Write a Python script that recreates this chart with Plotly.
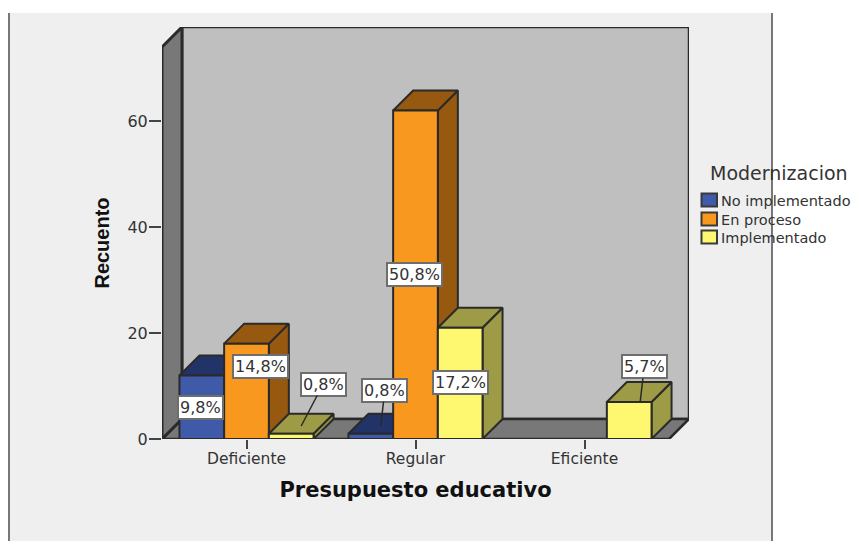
import plotly.graph_objects as go

categories = ["Deficiente", "Regular", "Eficiente"]
series_names = ["No implementado", "En proceso", "Implementado"]
no_implementado = [12, 1, None]
en_proceso = [18, 62, None]
implementado = [1, 21, 7]
y_ticks = [0, 20, 40, 60]

# (series index, category index, text, x shift, y shift, arrow ax, arrow ay)
labels = [
    (0, 0, "9,8%", -1, -31.6, None, None),
    (1, 0, "14,8%", 13.5, -23.3, None, None),
    (2, 0, "0,8%", 10, 7.7, 22, -42),
    (0, 1, "0,8%", 10, 7.7, 4, -36),
    (1, 1, "50,8%", -1.5, -164.4, None, None),
    (2, 1, "17,2%", 0, -55, None, None),
    (2, 2, "5,7%", 11, 0, 4, -35),
]

W, H = 852, 541
DEPTH_PX = 20
L, R, T, B = 162, 669 + DEPTH_PX, 47 - DEPTH_PX, 439  # extended plot box in pixels
X_RANGE = (-0.5, 2.5)
Y_RANGE = (0, 74)
DX = DEPTH_PX * (X_RANGE[1] - X_RANGE[0]) / (R - L - DEPTH_PX)
DY = DEPTH_PX * (Y_RANGE[1] - Y_RANGE[0]) / (B - T - DEPTH_PX)
BAR_W = 0.2645

front = ["#3f5aa9", "#f9981f", "#fdf870"]
top_c = ["#223467", "#96590f", "#9d9b45"]
side_c = ["#223467", "#96590f", "#9d9b45"]
EDGE = "#2a2a2a"
TEXT = "#333333"
series = [no_implementado, en_proceso, implementado]

fig = go.Figure()


def poly(xs, ys, fill, lw=2.5, line=EDGE):
    fig.add_trace(go.Scatter(
        x=list(xs) + [xs[0]], y=list(ys) + [ys[0]], mode="lines", fill="toself",
        fillcolor=fill, line=dict(color=line, width=lw), hoverinfo="skip",
        showlegend=False, xaxis="x", yaxis="y"))


x0, x1 = X_RANGE
y0, y1 = Y_RANGE
poly([x0 + DX, x1 + DX, x1 + DX, x0 + DX], [y0 + DY, y0 + DY, y1 + DY, y1 + DY], "#bfbfbf")
poly([x0, x1, x1 + DX, x0 + DX], [y0, y0, y0 + DY, y0 + DY], "#787878")
poly([x0, x0 + DX, x0 + DX, x0], [y0, y0 + DY, y1 + DY, y1], "#787878", lw=3)

for si, vals in enumerate(series):
    for ci, v in enumerate(vals):
        if v is None:
            continue
        left = ci + (si - 1.5) * BAR_W
        right = left + BAR_W
        poly([right, right + DX, right + DX, right], [0, DY, v + DY, v], side_c[si], lw=2)
        poly([left, right, right + DX, left + DX], [v, v, v + DY, v + DY], top_c[si], lw=2)

for si, vals in enumerate(series):
    fig.add_trace(go.Bar(
        x=[0, 1, 2], y=vals, name=series_names[si], xaxis="x2", yaxis="y2", showlegend=False,
        marker=dict(color=front[si], line=dict(color=EDGE, width=2)), hoverinfo="skip"))

for si, ci, text, xs, ys, ax, ay in labels:
    arrow = ax is not None
    fig.add_annotation(
        x=ci + (si - 1) * BAR_W, y=series[si][ci], xref="x2", yref="y2", text=text,
        xshift=xs, yshift=ys, showarrow=arrow, arrowhead=0, arrowwidth=1.5,
        arrowcolor=EDGE, ax=ax if arrow else None, ay=ay if arrow else None,
        axref="pixel", ayref="pixel",
        bgcolor="white", bordercolor="#6e6e6e", borderwidth=2, borderpad=1,
        font=dict(family="DejaVu Sans", size=16, color=TEXT))


def px(x):
    return (x - L) / (R - L)


def py(y):
    return (B - y) / (B - T)


# legend, placed to match the reference's tight swatch-to-text spacing
fig.add_annotation(x=px(707.5), y=py(173), xref="paper", yref="paper", xanchor="left", yanchor="middle",
                   text="Modernizacion", showarrow=False,
                   font=dict(family="DejaVu Sans", size=19, color=TEXT))
legend_y = [200, 219, 237]
shapes = [
    dict(type="rect", xref="paper", yref="paper", x0=px(8), x1=px(772), y0=py(13), y1=py(H + 5),
         fillcolor="#efefef", line=dict(width=0), layer="below"),
    dict(type="line", xref="paper", yref="paper", x0=px(9), x1=px(9), y0=py(13), y1=py(H + 5),
         line=dict(color="#777777", width=2), layer="below"),
    dict(type="line", xref="paper", yref="paper", x0=px(772), x1=px(772), y0=py(13), y1=py(H + 5),
         line=dict(color="#777777", width=2), layer="above"),
]
for name, color, ly in zip(series_names, front, legend_y):
    shapes.append(dict(type="rect", xref="paper", yref="paper", x0=px(701.5), x1=px(717), y0=py(ly - 6.5),
                       y1=py(ly + 6.5), fillcolor=color, line=dict(color="#3a3a3a", width=2), layer="above"))
    fig.add_annotation(x=px(721), y=py(ly + 1), xref="paper", yref="paper", xanchor="left", yanchor="middle",
                       xshift=-1, text=name, showarrow=False, borderpad=0,
                       font=dict(family="DejaVu Sans", size=14.5, color=TEXT))

hidden = dict(showgrid=False, zeroline=False, showline=False, showticklabels=False, ticks="")
fig.update_layout(
    width=W, height=H, paper_bgcolor="white", plot_bgcolor="rgba(0,0,0,0)",
    margin=dict(l=L, r=W - R, t=T, b=H - B, pad=0, autoexpand=False),
    barmode="group", bargap=1 - 3 * BAR_W, bargroupgap=0, showlegend=False,
    xaxis=dict(range=(x0, x1 + DX), domain=[0, 1], anchor="y", **hidden),
    yaxis=dict(range=(y0, y1 + DY), domain=[0, 1], anchor="x", **hidden),
    xaxis2=dict(
        range=X_RANGE, domain=[0, 1 - DEPTH_PX / (R - L)], anchor="y2",
        tickvals=[0, 1, 2], ticktext=categories, ticks="outside", ticklen=9, ticklabelstandoff=-4,
        tickwidth=2, tickcolor="#444444", showgrid=False, zeroline=False, showline=False,
        tickfont=dict(family="DejaVu Sans", size=15.5, color=TEXT), automargin=False,
        title=dict(text="Presupuesto educativo", standoff=15,
                   font=dict(family="DejaVu Sans", size=21, weight="bold", color="#111111"))),
    yaxis2=dict(
        range=Y_RANGE, domain=[0, 1 - DEPTH_PX / (B - T)], anchor="x2",
        tickvals=y_ticks, ticks="outside", ticklen=12, ticklabelstandoff=-2, tickwidth=2,
        tickcolor="#444444", showgrid=False, zeroline=False, showline=False,
        tickfont=dict(family="DejaVu Sans", size=16, color=TEXT), automargin=False,
        title=dict(text="Recuento", standoff=12,
                   font=dict(family="Liberation Sans", size=20, weight="bold", color="#111111"))),
    shapes=shapes,
)

fig.write_html("out.html", config=dict(displayModeBar=False),
               post_script="document.body.style.margin='0';document.body.style.overflow='hidden';")
